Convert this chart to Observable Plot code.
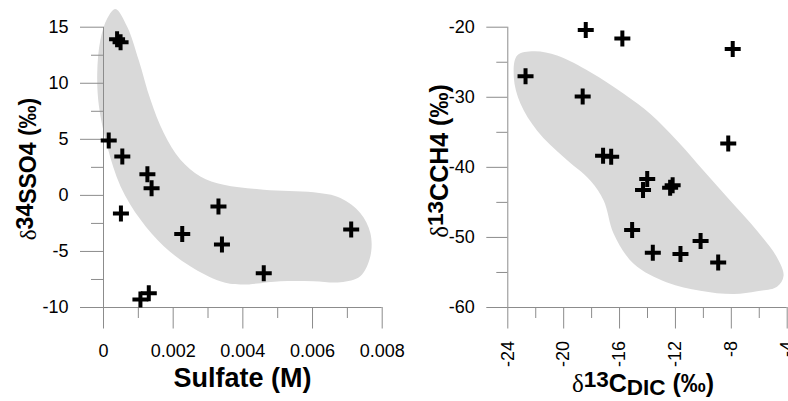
<!DOCTYPE html>
<html>
<head>
<meta charset="utf-8">
<script src="https://cdn.jsdelivr.net/npm/d3@7"></script>
<script src="https://cdn.jsdelivr.net/npm/@observablehq/plot@0.6"></script>
<style>
  body { margin: 0; background: #fff; }
  #wrap { display: flex; width: 788px; height: 401px; overflow: hidden; background: #fff; }
  #wrap svg { flex: none; }
</style>
</head>
<body>
<div id="wrap"></div>
<script>
// Sulfate concentration (M) vs δ34S of sulfate (‰)
const sulfateM = [0.00039, 0.00049, 0.00015, 0.00054, 0.00126, 0.00138, 0.0005, 0.0033, 0.00226, 0.0034, 0.0046, 0.00711, 0.00106, 0.0013];
const d34S     = [13.93, 13.66, 4.9, 3.47, 1.88, 0.63, -1.62, -1.0, -3.44, -4.39, -6.95, -3.05, -9.29, -8.72];

// Shaded envelope around the sulfate samples
const sulfateEnvX = [0.00034, 0.00068, 0.00101, 0.00135, 0.00173, 0.00221, 0.00278, 0.00345, 0.0046, 0.00603, 0.0068, 0.00737, 0.00766, 0.00766, 0.00737, 0.0068, 0.00603, 0.00508, 0.00393, 0.00335, 0.00249, 0.00173, 0.00106, 0.00049, 0.00011, -0.00013, -0.00018, -0.00009, 0.00011];
const sulfateEnvY = [16.63, 15.05, 12.08, 8.52, 5.56, 3.18, 1.69, 0.95, 0.51, 0.27, -0.23, -1.57, -3.35, -5.43, -7.21, -7.75, -7.66, -7.66, -7.95, -7.66, -6.32, -4.54, -2.16, 0.8, 4.36, 7.93, 10.9, 13.86, 15.8];

// δ13C of DIC vs δ13C of methane (‰)
const dicC = [-18.42, -15.8, -7.9, -22.73, -18.64, -17.18, -16.6, -8.22, -14.02, -14.32, -12.2, -12.38, -15.1, -13.62, -11.64, -10.2, -8.94];
const ch4C = [-20.4, -21.6, -23.1, -27.0, -29.9, -38.35, -38.47, -36.6, -41.68, -43.22, -42.55, -42.9, -48.93, -52.18, -52.37, -50.5, -53.58];

// Shaded envelope around the methane samples
const carbonEnvX = [-23.33, -22.14, -20.47, -18.08, -15.70, -13.79, -11.88, -9.98, -8.07, -6.16, -4.73, -4.26, -4.73, -6.16, -7.83, -10.22, -12.60, -14.99, -16.42, -17.13, -18.08, -19.99, -21.90, -23.09, -23.57];
const carbonEnvY = [-24.04, -23.43, -24.04, -26.43, -29.51, -32.37, -36.19, -40.47, -44.76, -49.04, -52.86, -55.47, -57.04, -57.69, -58.09, -57.61, -56.43, -53.76, -49.47, -44.76, -41.9, -38.57, -34.76, -30.94, -27.14];

// Axis ticks
const sulfateTicks = [0, 0.002, 0.004, 0.006, 0.008];
const sulfateMinor = [0.001, 0.003, 0.005, 0.007];
const d34STicks = [-10, -5, 0, 5, 10, 15];
const d34SMinor = [-7.5, -2.5, 2.5, 7.5, 12.5];
const dicTicks = [-24, -20, -16, -12, -8, -4];
const dicMinor = [-22, -18, -14, -10, -6];
const ch4Ticks = [-60, -50, -40, -30, -20];
const ch4Minor = [-55, -45, -35, -25];

const pts = (xs, ys) => xs.map((x, i) => ({x, y: ys[i]}));

// Bold "+" marker drawn as two strokes
const plus = {
  draw(ctx, size) {
    const r = Math.sqrt(size / Math.PI);
    ctx.moveTo(-r, 0); ctx.lineTo(r, 0);
    ctx.moveTo(0, -r); ctx.lineTo(0, r);
  }
};

const W = 394, H = 401;
const axisGray = "#8c8c8c";
const fmt = d => String(d);

function panel({xDomain, yDomain, marginLeft, marginRight, env, data, xTicks, xMinor, yTicks, yMinor, xRotate, ySize, yMinorSize}) {
  return Plot.plot({
    width: W, height: H,
    marginLeft, marginRight, marginTop: 26.7, marginBottom: 94,
    style: {
      fontFamily: "'Liberation Sans', Arial, sans-serif",
      fontSize: "18px",
      color: "black",
      background: "transparent",
      overflow: "visible"
    },
    x: {domain: xDomain},
    y: {domain: yDomain},
    marks: [
      Plot.line(env, {x: "x", y: "y", curve: "catmull-rom-closed", fill: "#d9d9d9", stroke: "none"}),
      Plot.ruleX([xDomain[0]], {stroke: axisGray}),
      Plot.ruleY([yDomain[0]], {stroke: axisGray}),
      Plot.axisX({ticks: xMinor, tickSize: 11, tickFormat: () => "", stroke: axisGray, label: null}),
      Plot.axisX({ticks: xTicks, tickSize: 21.5, tickPadding: xRotate ? 12 : 15, tickRotate: xRotate, tickFormat: fmt, stroke: axisGray, fill: "black", label: null}),
      Plot.axisY({ticks: yMinor, tickSize: yMinorSize, tickFormat: () => "", stroke: axisGray, label: null}),
      Plot.axisY({ticks: yTicks, tickSize: ySize, tickPadding: 12, tickFormat: fmt, stroke: axisGray, fill: "black", label: null}),
      Plot.dot(data, {x: "x", y: "y", symbol: plus, r: 8, stroke: "black", strokeWidth: 4, fill: "none"})
    ]
  });
}

const left = panel({
  xDomain: [0, 0.008], yDomain: [-10, 15],
  marginLeft: 103, marginRight: 12.3,
  env: pts(sulfateEnvX, sulfateEnvY), data: pts(sulfateM, d34S),
  xTicks: sulfateTicks, xMinor: sulfateMinor, yTicks: d34STicks, yMinor: d34SMinor,
  xRotate: 0, ySize: 23, yMinorSize: 12
});

const right = panel({
  xDomain: [-24, -4], yDomain: [-60, -20],
  marginLeft: 113.3, marginRight: 1.3,
  env: pts(carbonEnvX, carbonEnvY), data: pts(dicC, ch4C),
  xTicks: dicTicks, xMinor: dicMinor, yTicks: ch4Ticks, yMinor: ch4Minor,
  xRotate: -90, ySize: 21, yMinorSize: 11
});

const wrap = document.getElementById("wrap");
wrap.append(left, right);

// Axis titles with super- and subscripts
const boldFont = "'Liberation Sans', Arial, sans-serif";
const serifFont = "'Liberation Serif', 'Times New Roman', serif";

function title(svg, {x, y, rotate, size, parts}) {
  const t = d3.select(svg).append("text")
    .attr("transform", `translate(${x},${y})` + (rotate ? ` rotate(${rotate})` : ""))
    .attr("text-anchor", "middle")
    .attr("fill", "black")
    .style("font-size", size + "px");
  for (const p of parts) {
    t.append("tspan")
      .attr("dy", p.dy || 0)
      .style("font-family", p.serif ? serifFont : boldFont)
      .style("font-weight", p.serif ? "normal" : "bold")
      .style("font-size", p.scale ? size * p.scale + "px" : null)
      .text(p.text);
  }
}

title(left, {x: 242.4, y: 386.5, size: 27, parts: [{text: "Sulfate (M)"}]});

title(left, {x: 36, y: 169, rotate: -90, size: 23, parts: [
  {text: "δ", serif: true},
  {text: "34", dy: -3},
  {text: "SSO4 (‰)", dy: 3}
]});

title(right, {x: 249, y: 392, size: 25, parts: [
  {text: "δ", serif: true},
  {text: "13", dy: -5, scale: 0.9},
  {text: "C", dy: 5},
  {text: "DIC", dy: 3, scale: 0.9},
  {text: " (‰)", dy: -3}
]});

title(right, {x: 54, y: 161, rotate: -90, size: 25, parts: [
  {text: "δ", serif: true},
  {text: "13", dy: -5, scale: 0.9},
  {text: "CCH4 (‰)", dy: 5}
]});
</script>
</body>
</html>
